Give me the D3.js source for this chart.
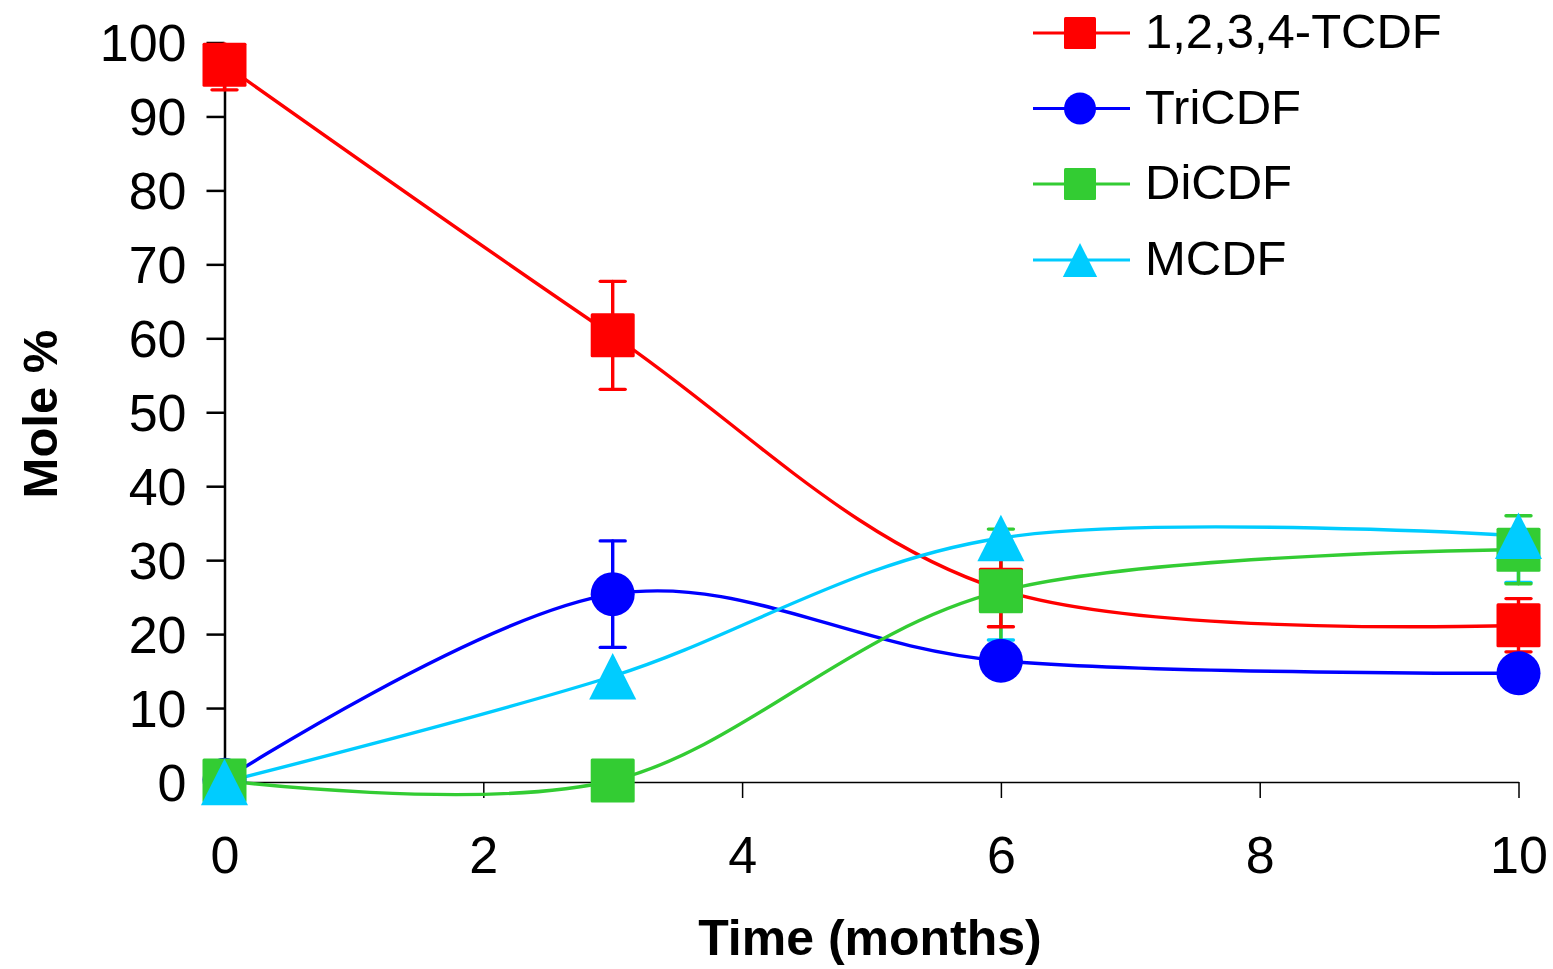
<!DOCTYPE html>
<html>
<head>
<meta charset="utf-8">
<script src="https://cdn.jsdelivr.net/npm/d3@7"></script>
<style>
  html, body { margin: 0; padding: 0; background: #fff; }
  svg { display: block; font-family: "Liberation Sans", Arial, sans-serif; }
</style>
</head>
<body>
<svg id="chart" width="1553" height="969"></svg>
<script>
// Sampling times (months)
const months = [0, 3, 6, 10];

// Mole % of each congener at each sampling time, with standard deviations
const tcdf      = [97.0, 60.4, 26.0, 21.2];
const tcdfErr   = [3.4, 7.3, 5.0, 3.6];
const tricdf    = [0.3, 25.4, 16.4, 14.7];
const tricdfErr = [0, 7.2, 1.5, 1.2];
const dicdf     = [0.2, 0.2, 25.8, 31.4];
const dicdfErr  = [0, 0, 8.4, 4.6];
const mcdf      = [0.0, 14.3, 33.0, 33.3];
const mcdfErr   = [0, 0, 13.8, 6.3];

const seriesNames = ["1,2,3,4-TCDF", "TriCDF", "DiCDF", "MCDF"];

const xTicks = [0, 2, 4, 6, 8, 10];
const yTicks = [0, 10, 20, 30, 40, 50, 60, 70, 80, 90, 100];

const series = [
  { name: seriesNames[0], values: tcdf,   err: tcdfErr,   color: "#ff0000", shape: "square",   dir: "both" },
  { name: seriesNames[1], values: tricdf, err: tricdfErr, color: "#0000ff", shape: "circle",   dir: "both" },
  { name: seriesNames[2], values: dicdf,  err: dicdfErr,  color: "#33cc33", shape: "square",   dir: "both" },
  { name: seriesNames[3], values: mcdf,   err: mcdfErr,   color: "#00ccff", shape: "triangle", dir: "minus" }
];

const svg = d3.select("#chart");
const TICK_FONT = 52;
const LEGEND_FONT = 49;

const x = d3.scaleLinear().domain([0, 10]).range([224.5, 1518.5]);
const y = d3.scaleLinear().domain([0, 100]).range([782, 42.5]);

// Clip error bars to the plotting region
svg.append("defs").append("clipPath").attr("id", "plotClip")
  .append("rect")
  .attr("x", 0).attr("y", y(100))
  .attr("width", 1553).attr("height", 969 - y(100));

// ---- Axes ----
const xAxis = svg.append("g")
  .attr("transform", `translate(0,${y(0)})`)
  .call(d3.axisBottom(x).tickValues(xTicks).tickFormat(d3.format("d"))
    .tickSize(16).tickSizeOuter(0).tickPadding(38));
xAxis.select(".domain").attr("stroke", "#000").attr("stroke-width", 1.5);
xAxis.selectAll(".tick line").attr("stroke", "#000").attr("stroke-width", 1.5);
xAxis.selectAll(".tick text")
  .attr("font-size", TICK_FONT).attr("fill", "#000")
  .attr("font-family", "'Liberation Sans', Arial, sans-serif");

const yAxis = svg.append("g")
  .attr("transform", `translate(${x(0)},0)`)
  .call(d3.axisLeft(y).tickValues(yTicks).tickFormat(d3.format("d"))
    .tickSize(18).tickSizeOuter(0).tickPadding(20));
yAxis.select(".domain").attr("stroke", "#000").attr("stroke-width", 2.5);
yAxis.selectAll(".tick line").attr("stroke", "#000").attr("stroke-width", 2.5);
yAxis.selectAll(".tick text")
  .attr("font-size", TICK_FONT).attr("fill", "#000")
  .attr("dy", "0.35em")
  .attr("font-family", "'Liberation Sans', Arial, sans-serif");

// Axis titles
svg.append("text")
  .attr("x", 870).attr("y", 955)
  .attr("text-anchor", "middle")
  .attr("font-size", 50).attr("font-weight", "bold")
  .text("Time (months)");

svg.append("text")
  .attr("transform", "translate(57,414) rotate(-90)")
  .attr("text-anchor", "middle")
  .attr("font-size", 49).attr("font-weight", "bold")
  .text("Mole %");

// ---- Smoothed series lines ----
const line = d3.line()
  .x(d => x(d[0]))
  .y(d => y(d[1]))
  .curve(d3.curveCardinal.tension(0));

const linesG = svg.append("g");
series.forEach(s => {
  linesG.append("path")
    .datum(months.map((m, i) => [m, s.values[i]]))
    .attr("fill", "none")
    .attr("stroke", s.color)
    .attr("stroke-width", 3.4)
    .attr("stroke-linejoin", "round")
    .attr("d", line);
});

// ---- Error bars ----
const errG = svg.append("g").attr("clip-path", "url(#plotClip)");
const CAP = 12.5;
series.slice().reverse().forEach(s => {
  months.forEach((m, i) => {
    const e = s.err[i];
    if (!e) return;
    const cx = x(m);
    const lo = y(s.values[i] - e);
    const hi = s.dir === "both" ? y(s.values[i] + e) : y(s.values[i]);
    const g = errG.append("g")
      .attr("stroke", s.color).attr("stroke-width", 3.4).attr("stroke-linecap", "round");
    g.append("line").attr("x1", cx).attr("x2", cx).attr("y1", hi).attr("y2", lo);
    g.append("line").attr("x1", cx - CAP).attr("x2", cx + CAP).attr("y1", lo).attr("y2", lo);
    if (s.dir === "both") {
      g.append("line").attr("x1", cx - CAP).attr("x2", cx + CAP).attr("y1", hi).attr("y2", hi);
    }
  });
});

// ---- Markers ----
function drawMarker(g, shape, cx, cy, size, color) {
  if (shape === "square") {
    g.append("rect")
      .attr("x", cx - size / 2).attr("y", cy - size / 2)
      .attr("width", size).attr("height", size)
      .attr("rx", 1.5)
      .attr("fill", color);
  } else if (shape === "circle") {
    g.append("circle")
      .attr("cx", cx).attr("cy", cy).attr("r", size / 2)
      .attr("fill", color);
  } else {
    const w = size * 1.07, h = size * 1.06;
    g.append("path")
      .attr("d", `M${cx},${cy - h / 2}L${cx + w / 2},${cy + h / 2}L${cx - w / 2},${cy + h / 2}Z`)
      .attr("fill", color);
  }
}

const markG = svg.append("g");
series.forEach(s => {
  months.forEach((m, i) => {
    drawMarker(markG, s.shape, x(m), y(s.values[i]), 44, s.color);
  });
});

// ---- Legend ----
const legend = svg.append("g");
const rowY = [33, 108.5, 184, 260];
series.forEach((s, i) => {
  const ly = rowY[i];
  legend.append("line")
    .attr("x1", 1033).attr("x2", 1130).attr("y1", ly).attr("y2", ly)
    .attr("stroke", s.color).attr("stroke-width", 3.2);
  drawMarker(legend, s.shape, 1080, ly, 32, s.color);
  legend.append("text")
    .attr("x", 1145).attr("y", ly + 15)
    .attr("font-size", LEGEND_FONT).attr("fill", "#000")
    .text(s.name);
});
</script>
</body>
</html>
